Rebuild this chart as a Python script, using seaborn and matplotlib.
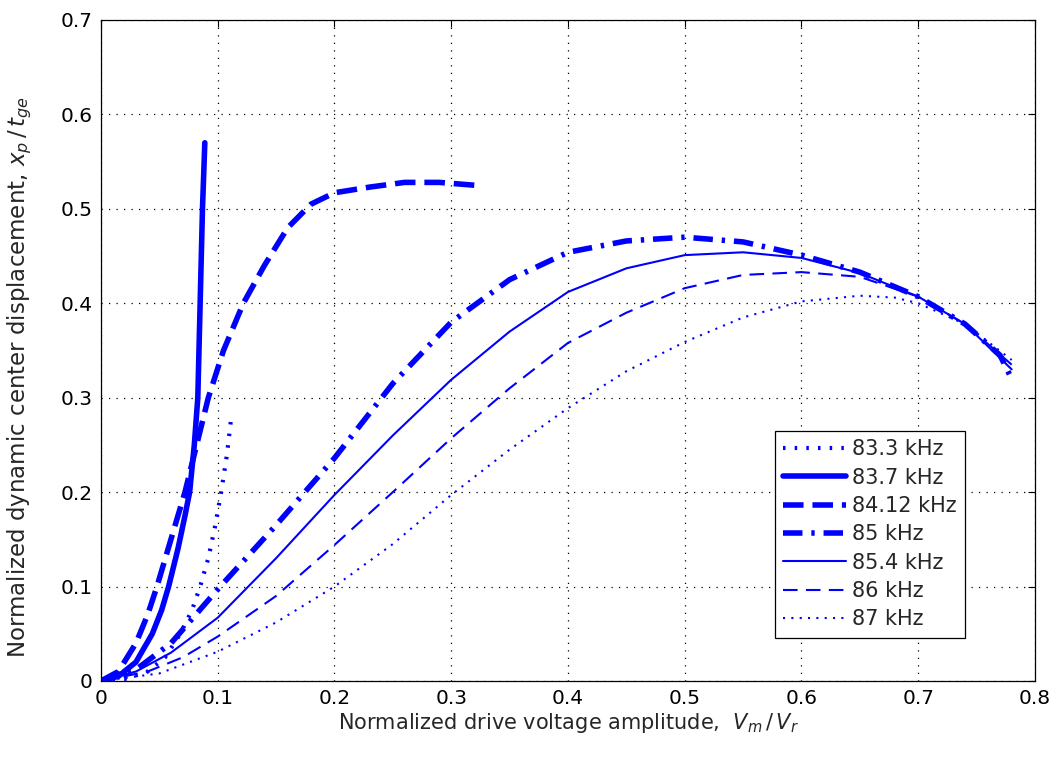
import numpy as np
import pandas as pd
import seaborn as sns
import matplotlib.pyplot as plt

# data (x = Vm/Vr, y = xp/tge)
x_833 = [0, 0.02, 0.04, 0.055, 0.068, 0.078, 0.085, 0.092, 0.098, 0.103, 0.108, 0.112]
y_833 = [0, 0.002, 0.01, 0.025, 0.05, 0.075, 0.1, 0.13, 0.165, 0.2, 0.24, 0.283]

x_837 = [0, 0.015, 0.03, 0.044, 0.052, 0.058, 0.066, 0.072, 0.076, 0.080, 0.083, 0.085, 0.087, 0.089]
y_837 = [0, 0.005, 0.02, 0.05, 0.075, 0.1, 0.14, 0.175, 0.2, 0.25, 0.3, 0.4, 0.5, 0.57]

x_8412 = [0, 0.015, 0.03, 0.04, 0.048, 0.06, 0.072, 0.082, 0.092, 0.105, 0.122, 0.14, 0.16, 0.18, 0.2, 0.23, 0.26, 0.29, 0.32]
y_8412 = [0, 0.01, 0.04, 0.07, 0.1, 0.15, 0.2, 0.25, 0.3, 0.35, 0.4, 0.44, 0.48, 0.505, 0.517, 0.523, 0.528, 0.528, 0.525]

x_85 = [0, 0.03, 0.06, 0.1, 0.15, 0.2, 0.25, 0.3, 0.35, 0.4, 0.45, 0.5, 0.55, 0.6, 0.65, 0.7, 0.74, 0.77, 0.78]
y_85 = [0, 0.012, 0.04, 0.097, 0.165, 0.236, 0.315, 0.38, 0.425, 0.454, 0.466, 0.470, 0.465, 0.451, 0.433, 0.407, 0.378, 0.345, 0.32]

x_854 = [0, 0.03, 0.06, 0.1, 0.15, 0.2, 0.25, 0.3, 0.35, 0.4, 0.45, 0.5, 0.55, 0.6, 0.65, 0.7, 0.74, 0.78]
y_854 = [0, 0.01, 0.03, 0.067, 0.13, 0.197, 0.26, 0.319, 0.37, 0.412, 0.437, 0.451, 0.454, 0.448, 0.432, 0.407, 0.378, 0.33]

x_86 = [0, 0.04, 0.07, 0.1, 0.15, 0.2, 0.25, 0.3, 0.35, 0.4, 0.45, 0.5, 0.55, 0.6, 0.65, 0.7, 0.74, 0.78]
y_86 = [0, 0.01, 0.025, 0.047, 0.09, 0.144, 0.2, 0.257, 0.31, 0.358, 0.39, 0.416, 0.43, 0.433, 0.428, 0.407, 0.378, 0.335]

x_87 = [0, 0.05, 0.1, 0.15, 0.2, 0.25, 0.3, 0.35, 0.4, 0.45, 0.5, 0.55, 0.6, 0.65, 0.68, 0.7, 0.74, 0.78]
y_87 = [0, 0.008, 0.031, 0.062, 0.1, 0.145, 0.197, 0.245, 0.289, 0.328, 0.359, 0.385, 0.402, 0.408, 0.406, 0.400, 0.378, 0.34]

labels = ['83.3 kHz', '83.7 kHz', '84.12 kHz', '85 kHz', '85.4 kHz', '86 kHz', '87 kHz']
xs = [x_833, x_837, x_8412, x_85, x_854, x_86, x_87]
ys = [y_833, y_837, y_8412, y_85, y_854, y_86, y_87]

# line styles (matlab-like)
widths = [3.0, 4.0, 4.0, 4.0, 1.5, 1.5, 1.5]
dashes = [(0.6, 2.2), None, (3.7, 1.6), (3.5, 1.6, 0.6, 1.6), None, (7, 4), (1, 3)]

sns.set_style("white")
plt.rcParams['font.family'] = ['DejaVu Sans']
plt.rcParams['mathtext.fontset'] = 'dejavusans'

fig = plt.figure(figsize=(10.62, 7.57), dpi=100)
ax = fig.add_axes([0.095, 0.1004, 0.8796, 0.8732])

for lab, xv, yv, lw, ds in zip(labels, xs, ys, widths, dashes):
    df = pd.DataFrame({'x': xv, 'y': yv})
    sns.lineplot(data=df, x='x', y='y', ax=ax, color='#0000ff', lw=lw,
                 label=lab, sort=False, estimator=None)
    l = ax.lines[-1]
    if ds is not None:
        l.set_dashes(ds)
    l.set_dash_capstyle('butt')

ax.set_xlim(0, 0.8)
ax.set_ylim(0, 0.7)
ax.set_xticks(np.arange(0, 0.81, 0.1))
ax.set_yticks(np.arange(0, 0.71, 0.1))
ax.set_xticklabels(['0', '0.1', '0.2', '0.3', '0.4', '0.5', '0.6', '0.7', '0.8'])
ax.set_yticklabels(['0', '0.1', '0.2', '0.3', '0.4', '0.5', '0.6', '0.7'])
ax.grid(True, color='black', linestyle=(0, (1, 5)), lw=0.9)
ax.tick_params(direction='in', length=5, width=0.8, top=True, right=True,
               labelsize=14.5, colors='black', pad=6)
for s in ax.spines.values():
    s.set_color('black')
    s.set_linewidth(0.9)

ax.set_xlabel(r'Normalized drive voltage amplitude,  $V_m\,/\,V_r$', fontsize=15, labelpad=2)
ax.set_ylabel(r'Normalized dynamic center displacement, $x_p\,/\,t_{ge}$', fontsize=16.5)
ax.yaxis.set_label_coords(-0.072, 0.46)

leg = ax.legend(loc='lower right', bbox_to_anchor=(0.936, 0.05), fontsize=15,
                handlelength=3.0, handletextpad=0.3, labelspacing=0.4,
                borderpad=0.4, fancybox=False, framealpha=1, edgecolor='black')
leg.get_frame().set_linewidth(0.9)

fig.savefig('out.png', dpi=100)
